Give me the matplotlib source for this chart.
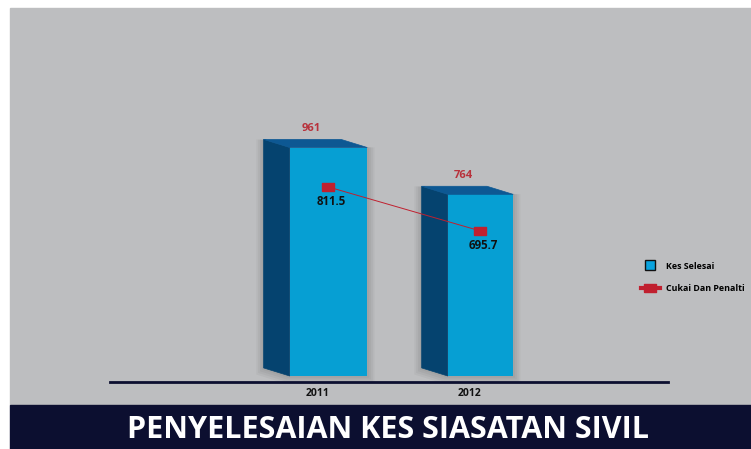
import matplotlib.pyplot as plt
from matplotlib.patches import Rectangle, Polygon
from matplotlib.lines import Line2D

# data
years = ['2011', '2012']
kes_selesai = [961, 764]
cukai_penalti = [811.5, 695.7]
series_names = ['Kes Selesai', 'Cukai Dan Penalti']
title = 'PENYELESAIAN KES SIASATAN SIVIL'

plt.rcParams['font.family'] = ['Open Sans', 'DejaVu Sans']

W, H = 751, 449
fig = plt.figure(figsize=(W / 100, H / 100), dpi=100, facecolor='white')

# grey panel and navy title band
fig.add_artist(Rectangle((10 / W, (H - 405) / H), 1, (405 - 8) / H,
                         transform=fig.transFigure, color='#bdbec0', zorder=-10))
fig.add_artist(Rectangle((10 / W, 0), 1, (H - 405) / H,
                         transform=fig.transFigure, color='#0c0f30', zorder=-10))
fig.text(0.516, (H - 430) / H, title, color='white', fontsize=22,
         fontweight='bold', ha='center', va='center')

ax = fig.add_axes([110 / W, (H - 382) / H, 558 / W, (382 - 60) / H])
ax.set_facecolor('none')
ax.set_xlim(-1.4375, 2.2336)
ax.set_ylim(-25.2, 1329)

x = list(range(len(years)))
widths = [0.51, 0.43]
front = '#069fd3'
side = '#05436f'
top = '#0d5893'
dx, dy = -0.172, 34  # depth of the fake 3d faces in data units

# rectangle marker, a bit wider than tall
rect_marker = [(-1.35, -1), (1.35, -1), (1.35, 1), (-1.35, 1), (-1.35, -1)]

for xi, v, w in zip(x, kes_selesai, widths):
    xl, xr = xi - w / 2, xi + w / 2
    # soft shadow halo around the box
    for k in range(4):
        gx, gy = 0.012 * (k + 1), 7 * (k + 1)
        ax.add_patch(Polygon([(xl + dx - gx, dy - gy), (xl - gx, -gy), (xr + gx, -gy),
                              (xr + gx, v), (xl + dx - gx, v + dy)],
                             closed=True, color='black', alpha=0.035, lw=0, zorder=1))
    ax.bar(xi, v, width=w, color=front, edgecolor=front, lw=0, zorder=3)
    ax.add_patch(Polygon([(xl, 0), (xl, v), (xl + dx, v + dy), (xl + dx, dy)],
                         closed=True, facecolor=side, edgecolor=side, lw=0.5, zorder=2))
    ax.add_patch(Polygon([(xl, v), (xr, v), (xr + dx, v + dy), (xl + dx, v + dy)],
                         closed=True, facecolor=top, edgecolor=top, lw=0.5, zorder=3))
    ax.annotate(str(v), (xi + dx / 2 - 0.03, v + dy), xytext=(0, 8), textcoords='offset points',
                ha='center', va='center', color='#b8323c', fontsize=8, fontweight='bold')

ax.set_xticks([xi - 0.07 for xi in x])
ax.set_xticklabels(years, fontsize=7.5, fontweight='bold', color='#111111')
ax.tick_params(axis='x', length=0, pad=4)
ax.set_yticks([])
for sp in ['top', 'left', 'right']:
    ax.spines[sp].set_visible(False)
ax.spines['bottom'].set_color('#0c0f30')
ax.spines['bottom'].set_linewidth(2)

ax2 = ax.twinx()
ax2.set_ylim(298.3, 1145.7)
ax2.axis('off')
ax2.plot(x, cukai_penalti, color='#c0202f', lw=0.7, marker=rect_marker, markersize=8,
         markerfacecolor='#c0202f', markeredgecolor='#c0202f', zorder=5)
for xi, v in zip(x, cukai_penalti):
    ax2.annotate(f'{v:.1f}', (xi, v), xytext=(2, -10.5), textcoords='offset points',
                 ha='center', va='center', color='#111111', fontsize=8.3, fontweight='bold')

handles = [
    Line2D([], [], ls='none', marker='s', markersize=7, markerfacecolor='#0aa3de',
           markeredgecolor='#111111', markeredgewidth=1),
    Line2D([], [], color='#c0202f', lw=3, marker=rect_marker, markersize=8,
           markerfacecolor='#c0202f', markeredgecolor='#c0202f'),
]
fig.legend(handles, series_names, loc='upper left', bbox_to_anchor=(637 / W, (H - 258) / H),
           frameon=False, prop={'size': 6.4, 'weight': 'bold'}, handlelength=2.2,
           handletextpad=0.7, labelspacing=1.55, borderaxespad=0)

fig.savefig('out.png', dpi=100)
